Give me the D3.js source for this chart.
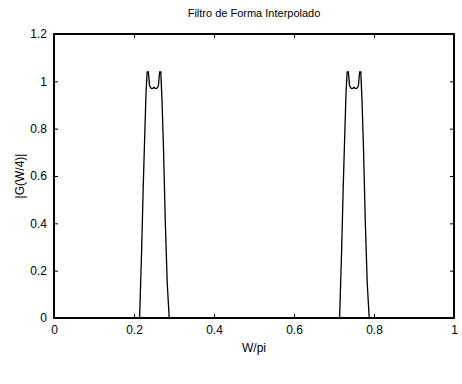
<!DOCTYPE html>
<html lang="es">
<head>
<meta charset="UTF-8">
<title>Filtro de Forma Interpolado</title>
<script src="https://cdn.jsdelivr.net/npm/d3@7"></script>
<style>
  body { margin: 0; background: #fff; }
  text { font-family: "Liberation Sans", Arial, sans-serif; fill: #000; }
</style>
</head>
<body>
<svg width="462" height="384"></svg>
<script>
// frequency samples (W/pi) and magnitude |G(W/4)|
var freq = [0, 0.214, 0.219, 0.223, 0.227, 0.230, 0.233, 0.236, 0.239, 0.243, 0.247, 0.250, 0.253, 0.257, 0.261, 0.264, 0.267, 0.270, 0.274, 0.278, 0.283, 0.288,
            0.714, 0.719, 0.723, 0.727, 0.730, 0.733, 0.736, 0.739, 0.743, 0.747, 0.750, 0.753, 0.757, 0.761, 0.764, 0.767, 0.770, 0.774, 0.778, 0.783, 0.788, 1];
var mag  = [0, 0, 0.28, 0.55, 0.78, 0.95, 1.04, 1.04, 0.98, 0.97, 0.97, 0.975, 0.97, 0.97, 0.98, 1.04, 1.04, 0.92, 0.7, 0.42, 0.15, 0,
            0, 0.28, 0.55, 0.78, 0.95, 1.04, 1.04, 0.98, 0.97, 0.97, 0.975, 0.97, 0.97, 0.98, 1.04, 1.04, 0.92, 0.7, 0.42, 0.15, 0, 0];
var xTicks = [0, 0.2, 0.4, 0.6, 0.8, 1];
var yTicks = [0, 0.2, 0.4, 0.6, 0.8, 1, 1.2];

var svg = d3.select("svg");
var mLeft = 54, mRight = 454, mTop = 34, mBottom = 318;

var x = d3.scaleLinear().domain([0, 1]).range([mLeft, mRight]);
var y = d3.scaleLinear().domain([0, 1.2]).range([mBottom, mTop]);

// ejes (ticks hacia dentro, estilo matlab)
svg.append("g").attr("transform", "translate(0," + mBottom + ")")
    .call(d3.axisBottom(x).tickValues(xTicks).tickSize(-4).tickPadding(7).tickFormat(d3.format("")));
svg.append("g").attr("transform", "translate(" + mLeft + ",0)")
    .call(d3.axisLeft(y).tickValues(yTicks).tickSize(-4).tickPadding(7).tickFormat(d3.format("")));
svg.append("g").attr("transform", "translate(0," + mTop + ")")
    .call(d3.axisTop(x).tickValues(xTicks).tickSize(-4).tickFormat(""));
svg.append("g").attr("transform", "translate(" + mRight + ",0)")
    .call(d3.axisRight(y).tickValues(yTicks).tickSize(-4).tickFormat(""));

svg.selectAll(".domain").remove();
svg.selectAll(".tick line").attr("stroke", "#000");
svg.selectAll(".tick text").style("font-size", "12px");

// caja
svg.append("rect")
    .attr("x", mLeft).attr("y", mTop)
    .attr("width", mRight - mLeft).attr("height", mBottom - mTop)
    .attr("fill", "none").attr("stroke", "#000").attr("stroke-width", 2);

// curva
var line = d3.line()
    .x(function (d, i) { return x(freq[i]); })
    .y(function (d) { return y(d); });

svg.append("path")
    .datum(mag)
    .attr("d", line)
    .attr("fill", "none")
    .attr("stroke", "#000")
    .attr("stroke-width", 1.3);

// textos
svg.append("text").attr("x", 254).attr("y", 17).attr("text-anchor", "middle")
    .style("font-size", "11px").text("Filtro de Forma Interpolado");
svg.append("text").attr("x", 254).attr("y", 352).attr("text-anchor", "middle")
    .style("font-size", "12px").text("W/pi");
svg.append("text").attr("transform", "translate(24,176) rotate(-90)").attr("text-anchor", "middle")
    .style("font-size", "12px").text("|G(W/4)|");
</script>
</body>
</html>
